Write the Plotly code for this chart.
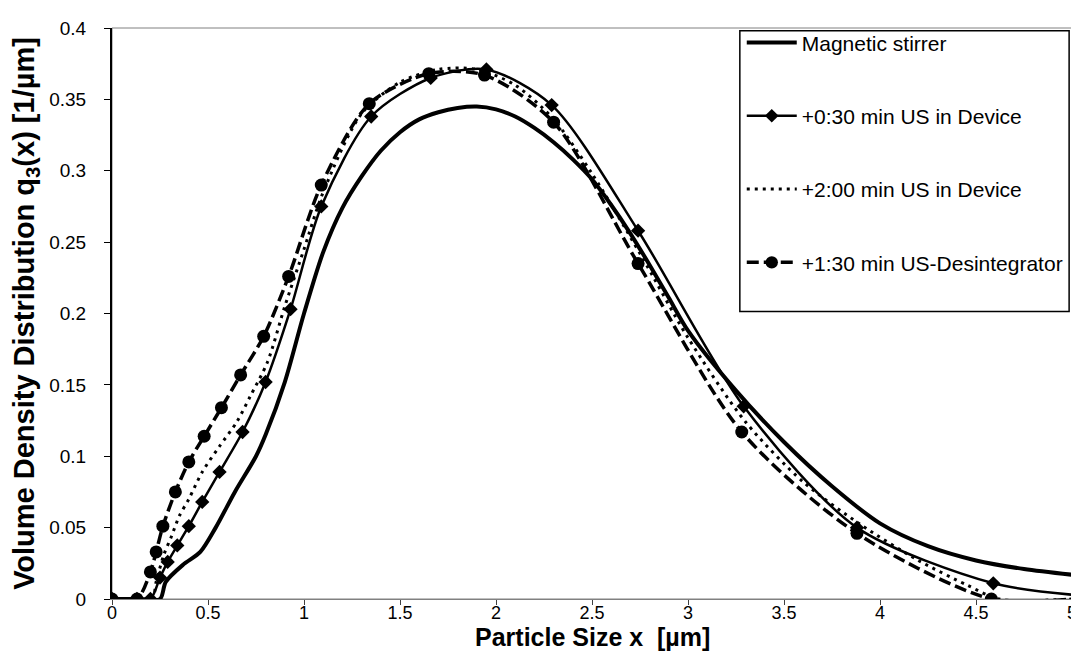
import plotly.graph_objects as go

# ---- data ----
names = ["Magnetic stirrer", "+0:30 min US in Device", "+2:00 min US in Device", "+1:30 min US-Desintegrator"]

x1 = [0, 0.15, 0.25, 0.28, 0.37, 0.46, 0.54, 0.64, 0.75, 0.80, 0.90, 1.00, 1.10, 1.20, 1.30, 1.40, 1.50, 1.60,
      1.70, 1.80, 1.90, 2.00, 2.10, 2.20, 2.30, 2.40, 2.50, 2.60, 2.70, 2.80, 2.90, 3.00, 3.25,
      3.50, 3.75, 4.00, 4.25, 4.50, 4.75, 5.00]
y1 = [0, 0, 0, 0.012, 0.024, 0.033, 0.050, 0.075, 0.100, 0.115, 0.152, 0.200, 0.243, 0.274, 0.296, 0.314,
      0.327, 0.336, 0.341, 0.344, 0.345, 0.343, 0.338, 0.330, 0.320, 0.308, 0.294, 0.276, 0.256, 0.234, 0.211,
      0.188, 0.146, 0.110, 0.079, 0.053, 0.037, 0.027, 0.021, 0.017]

x2 = [0, 0.13, 0.20, 0.25, 0.29, 0.34, 0.40, 0.47, 0.56, 0.68, 0.80, 0.93, 1.09, 1.35, 1.66, 1.95, 2.29,
      2.74, 3.29, 3.88, 4.59, 5.00]
y2 = [0, 0, 0, 0.015, 0.026, 0.0375, 0.051, 0.068, 0.089, 0.117, 0.152, 0.203, 0.275, 0.338, 0.365, 0.371,
      0.346, 0.258, 0.135, 0.050, 0.011, 0.003]

x3 = [0, 0.15, 0.21, 0.23, 0.27, 0.31, 0.35, 0.40, 0.47, 0.56, 0.65, 0.72, 0.81, 0.90, 1.00, 1.10, 1.30,
      1.50, 1.70, 1.90, 2.10, 2.30, 2.50, 2.75, 3.00, 3.30, 3.60, 3.90, 4.20, 4.45, 4.62, 5.00]
y3 = [0, 0, 0, 0.012, 0.031, 0.044, 0.058, 0.070, 0.089, 0.107, 0.124, 0.142, 0.166, 0.205, 0.245, 0.285,
      0.340, 0.362, 0.371, 0.371, 0.360, 0.336, 0.298, 0.242, 0.183, 0.124, 0.082, 0.052, 0.027, 0.010, 0, 0]

x4 = [0, 0.13, 0.20, 0.23, 0.265, 0.33, 0.40, 0.48, 0.57, 0.67, 0.79, 0.92, 1.09, 1.34, 1.65, 1.94, 2.30,
      2.74, 3.28, 3.88, 4.58, 5.00]
y4 = [0, 0, 0.019, 0.033, 0.051, 0.075, 0.096, 0.114, 0.134, 0.157, 0.184, 0.226, 0.290, 0.347, 0.368, 0.367,
      0.334, 0.235, 0.117, 0.046, 0, 0]

xticks = [0, 0.5, 1, 1.5, 2, 2.5, 3, 3.5, 4, 4.5, 5]
xticklabels = ["0", "0.5", "1", "1.5", "2", "2.5", "3", "3.5", "4", "4.5", "5"]
yticks = [0, 0.05, 0.1, 0.15, 0.2, 0.25, 0.3, 0.35, 0.4]
yticklabels = ["0", "0.05", "0.1", "0.15", "0.2", "0.25", "0.3", "0.35", "0.4"]
xtitle = "Particle Size x  [µm]"
ytitle = "Volume Density Distribution q<sub>3</sub>(x) [1/µm]"

FONT = "Liberation Sans, Arial, sans-serif"

fig = go.Figure()
fig.add_trace(go.Scatter(x=x1, y=y1, name=names[0], mode="lines", legendgroup="a",
                         line=dict(color="black", width=4, shape="spline", smoothing=0.8)))
fig.add_trace(go.Scatter(x=x2, y=y2, name=names[1], mode="lines+markers", legendgroup="b",
                         line=dict(color="black", width=2.5, shape="spline", smoothing=0.8),
                         marker=dict(symbol="diamond", size=[11] * (len(x2) - 1) + [0], color="black",
                                     opacity=1, line=dict(color="black", width=0))))
fig.add_trace(go.Scatter(x=x3, y=y3, name=names[2], mode="lines", legendgroup="c",
                         line=dict(color="black", width=3, dash="3px,5px", shape="spline", smoothing=0.8)))
fig.add_trace(go.Scatter(x=x4, y=y4, name=names[3], mode="lines+markers", legendgroup="d",
                         line=dict(color="black", width=3.5, dash="12px,5px", shape="spline", smoothing=0.8),
                         marker=dict(symbol="circle", size=[13] * (len(x4) - 1) + [0], color="black",
                                     opacity=1, line=dict(color="black", width=0))))

# plot-area border (gray) and legend box
fig.add_shape(type="rect", xref="paper", yref="paper", x0=0, x1=1, y0=0, y1=1,
              line=dict(color="#808080", width=1), layer="below")
fig.add_shape(type="rect", xref="paper", yref="paper", x0=0.654, x1=0.997, y0=0.5035, y1=0.995,
              line=dict(color="black", width=1.5), fillcolor="white", layer="above")

# x-axis title as annotation for exact placement
fig.add_annotation(text="<b>" + xtitle + "</b>", xref="paper", yref="paper", x=0.5, y=-0.067,
                   xanchor="center", yanchor="middle", showarrow=False,
                   font=dict(size=25, family=FONT, color="black"))

fig.update_layout(
    width=1079, height=670,
    margin=dict(l=104, r=10, t=15, b=79),
    paper_bgcolor="white", plot_bgcolor="white",
    font=dict(family=FONT, color="black", size=19),
    showlegend=True,
    legend=dict(x=0.656, y=1.01, xanchor="left", yanchor="top", bgcolor="rgba(0,0,0,0)",
                borderwidth=0, font=dict(size=21, family=FONT), itemwidth=50,
                tracegroupgap=43, traceorder="grouped"),
    xaxis=dict(range=[0, 5], tickvals=xticks, ticktext=xticklabels, showgrid=False, zeroline=False,
               showline=True, linecolor="#808080", linewidth=1, ticks="outside", ticklen=5,
               tickcolor="#404040", tickfont=dict(size=18), ticklabelstandoff=-8),
    yaxis=dict(range=[0, 0.4], tickvals=yticks, ticktext=yticklabels, showgrid=False, zeroline=False,
               showline=True, linecolor="black", linewidth=2, ticks="outside", ticklen=6,
               tickcolor="black", tickfont=dict(size=19), ticklabelstandoff=14,
               title=dict(text="<b>" + ytitle + "</b>", font=dict(size=29), standoff=6)),
)

fig.write_html("out.html")
